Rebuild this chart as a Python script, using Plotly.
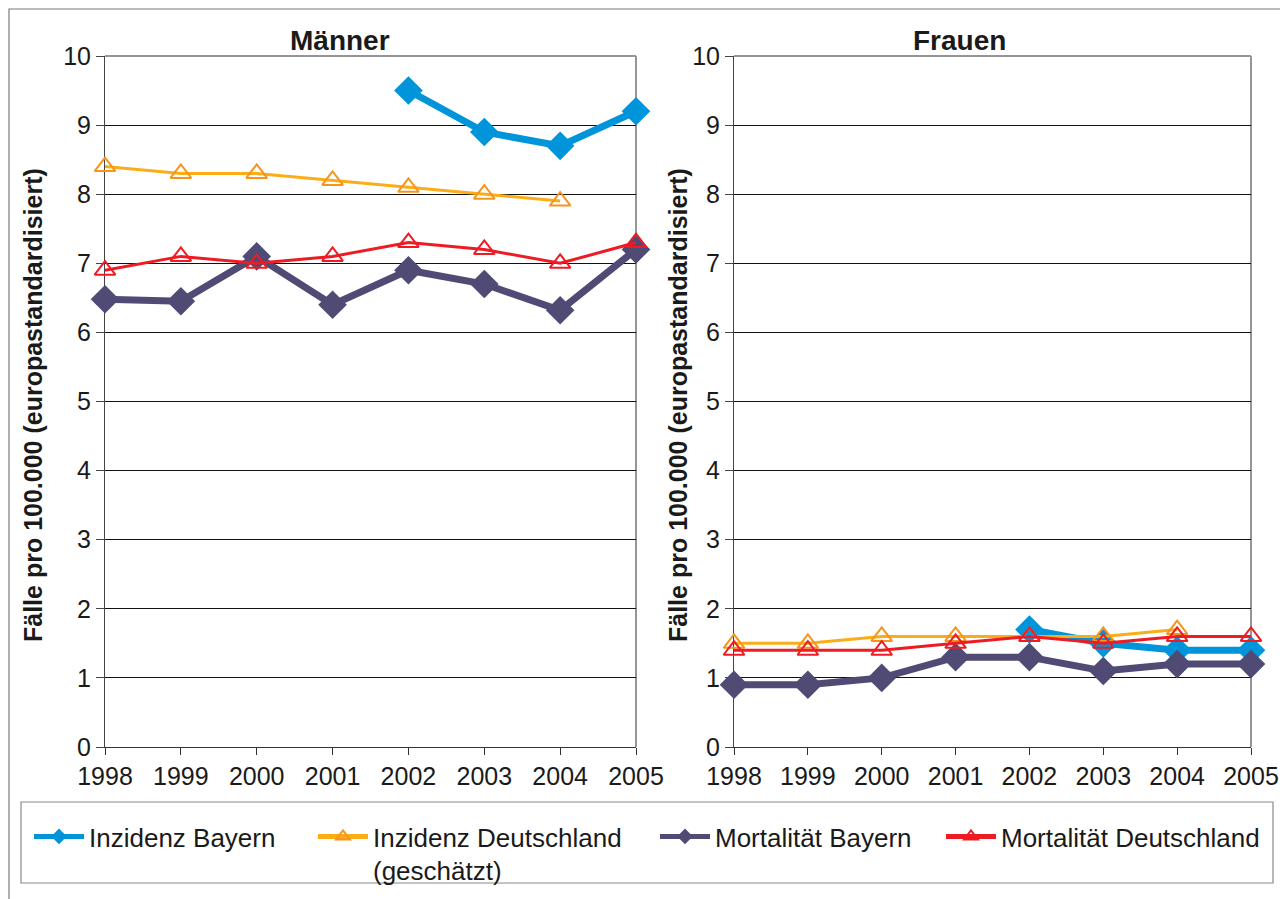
import plotly.graph_objects as go

W, H = 1288, 899
OFF = 8  # page body margin of the html page

years = [1998, 1999, 2000, 2001, 2002, 2003, 2004, 2005]
years_ib = [2002, 2003, 2004, 2005]
years_id = [1998, 1999, 2000, 2001, 2002, 2003, 2004]

# Männer
m_inz_bayern = [9.5, 8.9, 8.7, 9.2]
m_inz_de = [8.4, 8.3, 8.3, 8.2, 8.1, 8.0, 7.9]
m_mort_bayern = [6.48, 6.45, 7.1, 6.4, 6.9, 6.7, 6.32, 7.2]
m_mort_de = [6.9, 7.1, 7.0, 7.1, 7.3, 7.2, 7.0, 7.3]

# Frauen
f_inz_bayern = [1.7, 1.5, 1.4, 1.4]
f_inz_de = [1.5, 1.5, 1.6, 1.6, 1.6, 1.6, 1.7]
f_mort_bayern = [0.9, 0.9, 1.0, 1.3, 1.3, 1.1, 1.2, 1.2]
f_mort_de = [1.4, 1.4, 1.4, 1.5, 1.6, 1.5, 1.6, 1.6]

panel_titles = ["Männer", "Frauen"]
y_title = "Fälle pro 100.000 (europastandardisiert)"
names = ["Inzidenz Bayern", "Inzidenz Deutschland<br>(geschätzt)",
         "Mortalität Bayern", "Mortalität Deutschland"]

C_IB = "#0095DA"
C_ID_LINE = "#FBAD18"
C_ID_MK = "#F7941D"
C_MB = "#4F4B74"
C_MD = "#ED1C24"
FONT = "Liberation Sans, Arial, sans-serif"


def px_x(p):
    return (p - OFF) / W


def px_y(p):
    return 1 - (p - OFF) / H


fig = go.Figure()

panels = [
    ("x", "y", m_inz_bayern, m_inz_de, m_mort_bayern, m_mort_de, True),
    ("x2", "y2", f_inz_bayern, f_inz_de, f_mort_bayern, f_mort_de, False),
]

for xa, ya, ib, idd, mb, md, show in panels:
    fig.add_trace(go.Scatter(
        x=years_ib, y=ib, xaxis=xa, yaxis=ya, name=names[0], legend="legend",
        mode="lines+markers", line=dict(color=C_IB, width=7),
        marker=dict(symbol="diamond", size=22, color=C_IB),
        cliponaxis=False, showlegend=show))
    fig.add_trace(go.Scatter(
        x=years, y=mb, xaxis=xa, yaxis=ya, name=names[2], legend="legend3",
        mode="lines+markers", line=dict(color=C_MB, width=7),
        marker=dict(symbol="diamond", size=22, color=C_MB),
        cliponaxis=False, showlegend=show))
    fig.add_trace(go.Scatter(
        x=years_id, y=idd, xaxis=xa, yaxis=ya, name=names[1], legend="legend2",
        mode="lines+markers", line=dict(color=C_ID_LINE, width=3),
        marker=dict(symbol="triangle-up-open", size=18, color=C_ID_MK,
                    line=dict(width=2, color=C_ID_MK)),
        cliponaxis=False, showlegend=show))
    fig.add_trace(go.Scatter(
        x=years, y=md, xaxis=xa, yaxis=ya, name=names[3], legend="legend4",
        mode="lines+markers", line=dict(color=C_MD, width=3),
        marker=dict(symbol="triangle-up-open", size=18, color=C_MD,
                    line=dict(width=2, color=C_MD)),
        cliponaxis=False, showlegend=show))

ydom = [px_y(747), px_y(56)]
xdoms = [[px_x(105), px_x(636)], [px_x(734), px_x(1251)]]

axis_common_x = dict(
    range=[1998, 2005], tickmode="array", tickvals=years,
    ticktext=[str(v) for v in years], ticks="outside", ticklen=7,
    tickcolor="#333", showline=True, linecolor="#333", linewidth=1,
    showgrid=False, zeroline=False, layer="below traces",
    tickfont=dict(family=FONT, size=25, color="#1a1a1a"),
)
axis_common_y = dict(
    range=[0, 10], dtick=1, ticks="outside", ticklen=8, tickcolor="#444",
    showline=True, linecolor="#444", linewidth=1, showgrid=True,
    gridcolor="#111", gridwidth=1, zeroline=False, layer="below traces",
    tickfont=dict(family=FONT, size=25, color="#1a1a1a"),
)

fig.update_layout(
    xaxis=dict(domain=xdoms[0], anchor="y", **axis_common_x),
    yaxis=dict(domain=ydom, anchor="x", **axis_common_y),
    xaxis2=dict(domain=xdoms[1], anchor="y2", **axis_common_x),
    yaxis2=dict(domain=ydom, anchor="x2", **axis_common_y),
)

shapes = []
# gray top/right plot borders
for xa, ya in [("x", "y"), ("x2", "y2")]:
    shapes.append(dict(type="line", xref=f"{xa} domain", yref=f"{ya} domain",
                       x0=0, x1=1, y0=1, y1=1,
                       line=dict(color="#959595", width=2), layer="above"))
    shapes.append(dict(type="line", xref=f"{xa} domain", yref=f"{ya} domain",
                       x0=1, x1=1, y0=0, y1=1,
                       line=dict(color="#959595", width=2), layer="below"))
# outer frame
shapes.append(dict(type="rect", xref="paper", yref="paper",
                   x0=px_x(9), x1=px_x(1286), y0=px_y(915), y1=px_y(9),
                   line=dict(color="#7a7a7a", width=1.2), layer="below"))
# legend box
shapes.append(dict(type="rect", xref="paper", yref="paper",
                   x0=px_x(21), x1=px_x(1273), y0=px_y(883), y1=px_y(802),
                   line=dict(color="#8a8a8a", width=1.2), layer="below"))

annotations = []
for t, cx in zip(panel_titles, [340, 960]):
    annotations.append(dict(text=f"<b>{t}</b>", xref="paper", yref="paper",
                            x=px_x(cx), y=px_y(41), xanchor="center", yanchor="middle",
                            showarrow=False,
                            font=dict(family=FONT, size=28, color="#1a1a1a")))
for cx in [33, 678]:
    annotations.append(dict(text=f"<b>{y_title}</b>", xref="paper", yref="paper",
                            x=px_x(cx), y=px_y(405), xanchor="center", yanchor="middle",
                            textangle=-90, showarrow=False,
                            font=dict(family=FONT, size=25, color="#1a1a1a")))

leg_common = dict(orientation="h", bgcolor="rgba(0,0,0,0)", borderwidth=0,
                  itemwidth=50, itemsizing="constant", valign="top",
                  font=dict(family=FONT, size=26, color="#1a1a1a"),
                  xanchor="left", yanchor="top", tracegroupgap=0)
leg_x = [29, 313, 655, 941]
leg_y = 813

fig.update_layout(
    width=W, height=H,
    margin=dict(l=0, r=0, t=0, b=0, autoexpand=False),
    paper_bgcolor="white", plot_bgcolor="white",
    shapes=shapes, annotations=annotations,
    font=dict(family=FONT, color="#1a1a1a"),
    legend=dict(x=px_x(leg_x[0]), y=px_y(leg_y), **leg_common),
    legend2=dict(x=px_x(leg_x[1]), y=px_y(leg_y), **leg_common),
    legend3=dict(x=px_x(leg_x[2]), y=px_y(leg_y), **leg_common),
    legend4=dict(x=px_x(leg_x[3]), y=px_y(leg_y), **leg_common),
)

fig.write_html("out.html")
